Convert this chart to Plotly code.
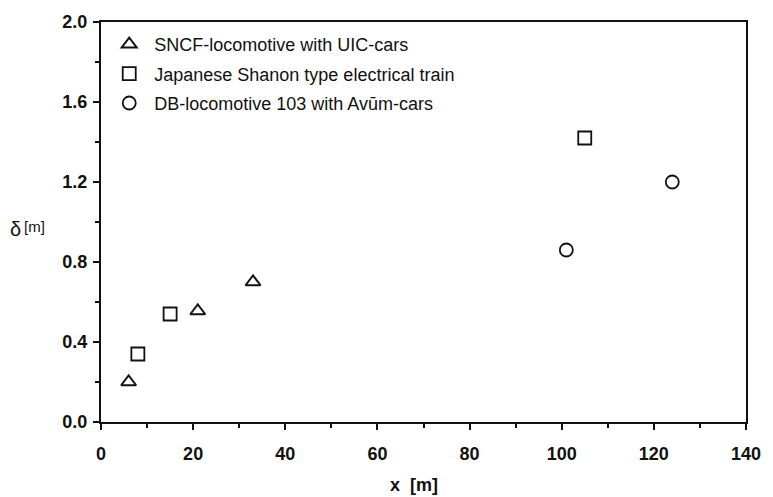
import plotly.graph_objects as go

# Measured deflection δ versus distance x for three train types
sncf_x = [6, 21, 33]
sncf_y = [0.20, 0.555, 0.70]

shanon_x = [8, 15, 105]
shanon_y = [0.34, 0.54, 1.42]

db_x = [101, 124]
db_y = [0.86, 1.20]

series_names = [
    "SNCF-locomotive with UIC-cars",
    "Japanese Shanon type electrical train",
    "DB-locomotive 103 with Avūm-cars",
]

x_ticks = [0, 20, 40, 60, 80, 100, 120, 140]
y_ticks = [0.0, 0.4, 0.8, 1.2, 1.6, 2.0]
y_tick_text = ["0.0", "0.4", "0.8", "1.2", "1.6", "2.0"]

FONT = "Liberation Sans, Arial, Helvetica, sans-serif"
INK = "#111111"

fig = go.Figure()

marker_line = dict(color=INK, width=1.8)
fig.add_trace(go.Scatter(
    x=sncf_x, y=sncf_y, mode="markers", name=series_names[0], legendgroup="a",
    marker=dict(symbol="triangle-up-open", size=13, color=INK,
                line=dict(color=INK, width=2)),
))
fig.add_trace(go.Scatter(
    x=shanon_x, y=shanon_y, mode="markers", name=series_names[1], legendgroup="b",
    marker=dict(symbol="square-open", size=13, color=INK, line=marker_line),
))
fig.add_trace(go.Scatter(
    x=db_x, y=db_y, mode="markers", name=series_names[2], legendgroup="c",
    marker=dict(symbol="circle-open", size=13, color=INK, line=marker_line),
))

axis_common = dict(
    showline=True, linecolor=INK, linewidth=2, mirror=True,
    showgrid=False, zeroline=False,
    ticks="outside", tickcolor=INK, tickwidth=1.5, ticklen=6,
    tickfont=dict(family=FONT, size=18, color=INK, weight="bold"),
)

fig.update_xaxes(
    range=[0, 140], tickvals=x_ticks,
    minor=dict(dtick=10, tick0=0, ticks="outside", ticklen=4, tickcolor=INK, tickwidth=1.5),
    ticklabelstandoff=8,
    **axis_common,
)
fig.update_yaxes(
    range=[0, 2.0], tickvals=y_ticks, ticktext=y_tick_text,
    minor=dict(dtick=0.2, tick0=0, ticks="outside", ticklen=4, tickcolor=INK, tickwidth=1.5),
    ticklabelstandoff=2,
    **axis_common,
)

# Axis titles
fig.add_annotation(
    xref="paper", yref="paper", x=0.485, y=-0.158, yanchor="middle", xanchor="center",
    text="x\u00a0\u00a0[m]", showarrow=False,
    font=dict(family=FONT, size=18, color=INK, weight="bold"),
)
fig.add_annotation(
    xref="paper", yref="y", x=-0.1445, y=0.965, xanchor="left", yanchor="middle",
    text="δ", showarrow=False,
    font=dict(family=FONT, size=20, color=INK),
)
fig.add_annotation(
    xref="paper", yref="y", x=-0.122, y=0.98, xanchor="left", yanchor="middle",
    text="[m]", showarrow=False,
    font=dict(family=FONT, size=15, color=INK),
)

fig.update_layout(
    width=773, height=497,
    margin=dict(l=101, r=20, t=14, b=75),
    paper_bgcolor="white", plot_bgcolor="white",
    showlegend=True,
    legend=dict(
        x=0.005, y=0.99, xanchor="left", yanchor="top",
        bgcolor="rgba(0,0,0,0)", borderwidth=0,
        font=dict(family=FONT, size=18, color=INK),
        tracegroupgap=3, itemwidth=40,
    ),
    font=dict(family=FONT, color=INK),
)

fig.write_html("out.html")
